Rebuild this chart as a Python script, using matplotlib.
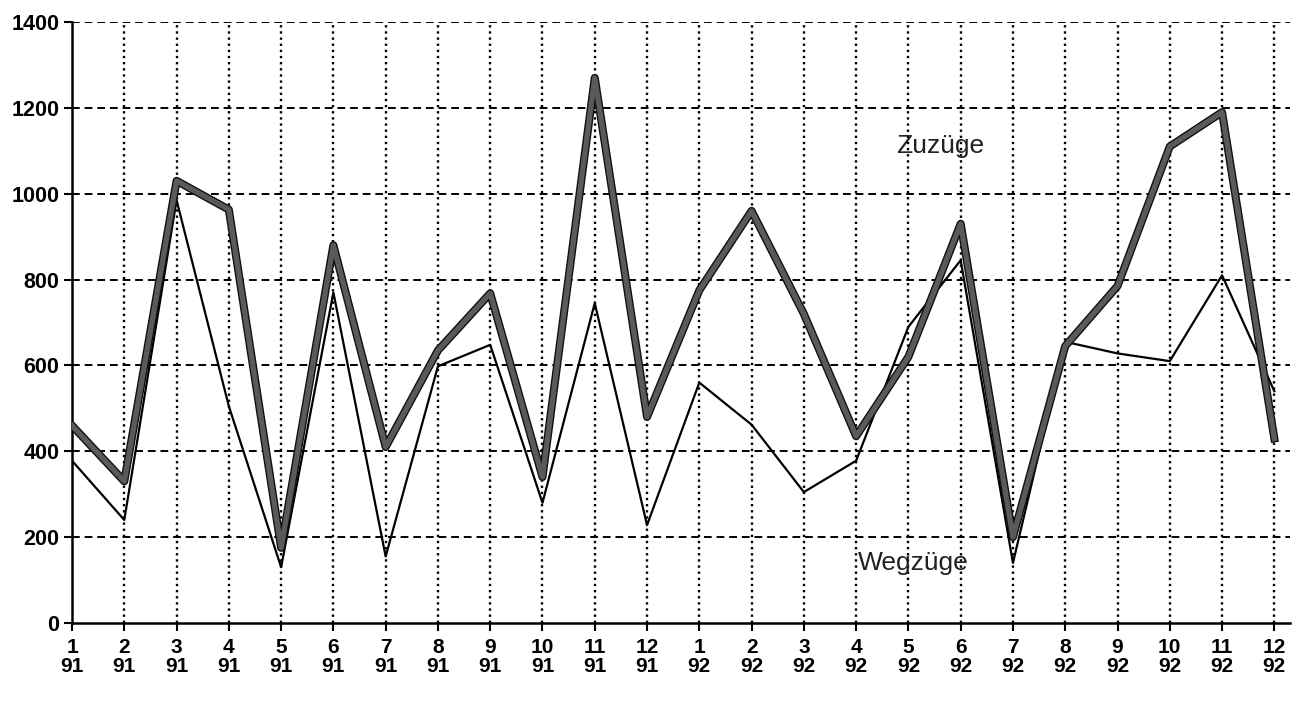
import matplotlib
matplotlib.use("Agg")
import matplotlib.pyplot as plt
import matplotlib.patheffects as pe

plt.rcParams['font.family'] = ['Liberation Sans', 'DejaVu Sans']

# months 1/91 .. 12/92
months = ['1', '2', '3', '4', '5', '6', '7', '8', '9', '10', '11', '12'] * 2
years = ['91'] * 12 + ['92'] * 12

zuzuege = [460, 330, 1030, 963, 175, 880, 410, 635, 768, 340, 1270, 480,
           775, 960, 720, 435, 620, 930, 200, 645, 785, 1110, 1190, 430]
wegzuege = [378, 240, 985, 505, 130, 770, 155, 598, 648, 280, 745, 228,
            560, 462, 305, 378, 690, 845, 140, 655, 628, 610, 810, 540]

x = list(range(len(months)))

fig = plt.figure(figsize=(13.07, 7.03), dpi=100)
ax = fig.add_axes([0.0551, 0.1138, 0.9319, 0.8549])

# grid: dashed horizontal, dotted vertical
for yv in range(200, 1401, 200):
    ax.axhline(yv, color='black', lw=1.4, ls=(0, (4, 2.5)), zorder=1)
for xv in x[1:]:
    ax.axvline(xv, color='black', lw=1.7, ls=(0, (1, 1.6)), zorder=1)

ax.plot(x, wegzuege, color='black', lw=1.6, zorder=3)
ax.plot(x, zuzuege, color='#5a5a5a', lw=3.8, zorder=4,
        path_effects=[pe.Stroke(linewidth=5.8, foreground='#111111'), pe.Normal()])

ax.text(16.6, 1110, 'Zuzüge', fontsize=19, ha='center', va='center', color='#222222')
ax.text(16.1, 140, 'Wegzüge', fontsize=19, ha='center', va='center', color='#222222')

ax.set_xlim(0, 23.3)
ax.set_ylim(0, 1400)
ax.set_yticks(range(0, 1401, 200))
ax.set_yticklabels([str(v) for v in range(0, 1401, 200)], fontsize=15.5, fontweight='bold')
ax.set_xticks(x)
ax.set_xticklabels([m + '\n' + yr for m, yr in zip(months, years)], fontsize=15,
                   fontweight='bold', linespacing=0.95)

for side in ['top', 'right']:
    ax.spines[side].set_visible(False)
ax.spines['left'].set_linewidth(1.8)
ax.spines['bottom'].set_linewidth(1.8)
ax.tick_params(axis='y', direction='out', length=6, width=1.5, pad=3)
ax.tick_params(axis='x', direction='out', length=6, width=1.5, pad=5)

fig.savefig('out.png', dpi=100)
